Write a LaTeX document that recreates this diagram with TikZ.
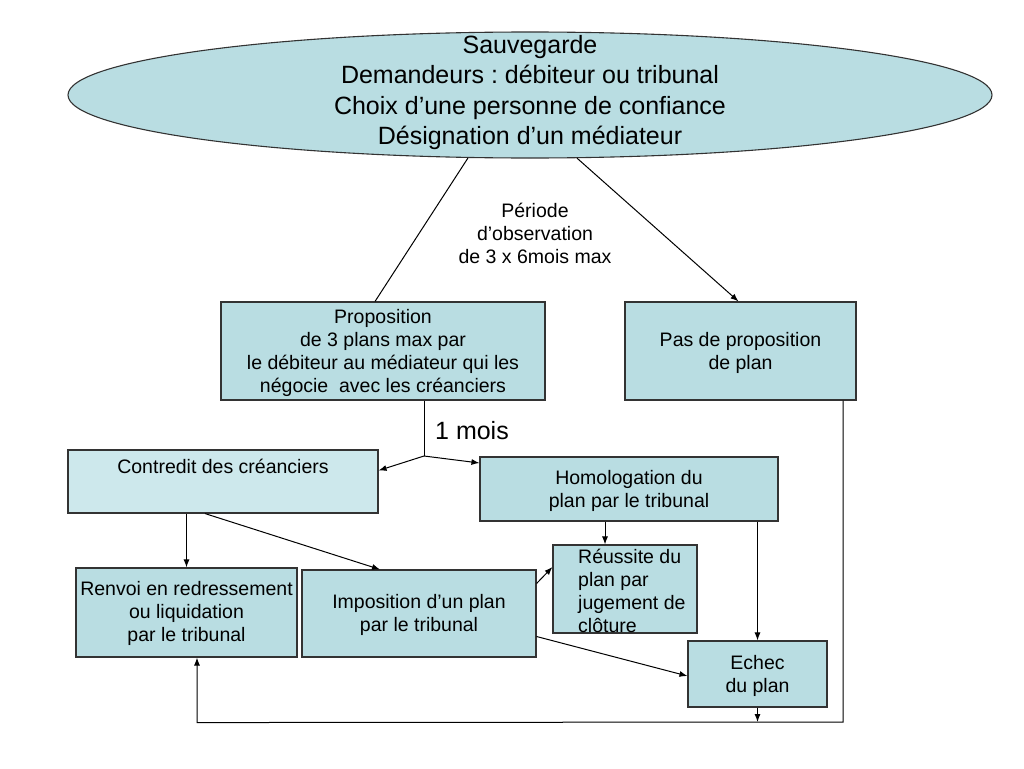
\documentclass[tikz,border=0pt]{standalone}
\usepackage{fontspec}
\setmainfont{Liberation Sans}
\frenchspacing
\usetikzlibrary{shapes.geometric,arrows.meta,calc}
\definecolor{boxfill}{HTML}{B9DDE2}
\definecolor{lightfill}{HTML}{CDE8EC}
\definecolor{edge}{HTML}{333333}
\begin{document}
\begin{tikzpicture}[x=1pt,y=-1pt,
  box/.style={draw=edge,line width=1.1pt,fill=boxfill,inner sep=0pt},
  txt/.style={font=\fontsize{19.5}{23}\selectfont,align=center,inner sep=0pt},
  conn/.style={line width=1pt,draw=black},
  arr/.style={conn,-{Latex[length=8pt,width=6pt]}}]
\useasboundingbox (0,0) rectangle (1024,768);
% ellipse
\node[ellipse,draw=edge,line width=1.1pt,fill=boxfill,minimum width=924pt,minimum height=126pt,inner sep=0pt] (ell) at (530,95) {};
\node[font=\fontsize{25}{30.3}\selectfont,align=center,inner sep=0pt] (ellT) at (530,92.5)
  {Sauvegarde\\Demandeurs : débiteur ou tribunal\\Choix d’une personne de confiance\\Désignation d’un médiateur};
% boxes
\node[box,minimum width=324pt,minimum height=98pt] (prop) at (383,351) {};
\node[txt] (propT) at (383,352.5) {Proposition\\de 3 plans max par\\le débiteur au médiateur qui les\\négocie\ \ avec les créanciers};
\node[box,minimum width=231pt,minimum height=98pt] (pas) at (740.5,351) {};
\node[txt] (pasT) at (740.5,352.5) {Pas de proposition\\de plan};
\node[box,fill=lightfill,minimum width=310pt,minimum height=63pt] (contr) at (223,481.5) {};
\node[txt] (contrT) at (223,466) {Contredit des créanciers};
\node[box,minimum width=298pt,minimum height=64pt] (homol) at (629,489) {};
\node[txt] (homolT) at (629,491) {Homologation du\\plan par le tribunal};
\node[box,minimum width=144pt,minimum height=88pt] (reus) at (625,589) {};
\node[txt,align=left,anchor=west] (reusT) at (578,590.5) {Réussite du\\plan par\\jugement de\\clôture};
\node[box,minimum width=221pt,minimum height=89pt] (renvoi) at (186.5,612.5) {};
\node[txt] (renvoiT) at (186.5,613) {Renvoi en redressement\\ou liquidation\\par le tribunal};
\node[box,minimum width=234pt,minimum height=87pt] (impos) at (419,613.5) {};
\node[txt] (imposT) at (419,614.5) {Imposition d’un plan\\par le tribunal};
\node[box,minimum width=139pt,minimum height=66pt] (echec) at (757.5,674) {};
\node[txt] (echecT) at (757.5,676) {Echec\\du plan};
% labels
\node[txt] (periode) at (535,233) {Période\\d’observation\\de 3 x 6mois max};
\node[font=\fontsize{25}{30}\selectfont,inner sep=0pt] (mois) at (472,431) {1 mois};
% connectors
\draw[conn] ($(ell.south)+(-62,-0.6)$) -- ($(prop.north)+(-8,0)$);
\draw[arr] ($(ell.south)+(47,-0.4)$) -- ($(pas.north)+(-2,0)$);
\coordinate (sp) at (424,456);
\draw[conn] ($(prop.south)+(41,0)$) -- (sp);
\draw[arr] (sp) -- ($(contr.east)+(0,-11)$);
\draw[arr] (sp) -- ($(homol.west)+(0,-26)$);
\draw[arr] ($(homol.south)+(-24,0)$) -- ($(reus.north)+(-20,0)$);
\draw[arr] (echec.north |- homol.south) -- (echec.north);
\draw[arr] (renvoi.north |- contr.south) -- (renvoi.north);
\draw[arr] ($(contr.south)+(-18,0)$) -- ($(impos.north)+(-39,0)$);
\draw[arr] ($(impos.east)+(0,-30)$) -- ($(reus.west)+(0,-22)$);
\draw[arr] ($(impos.east)+(0,23)$) -- ($(echec.west)+(0,2)$);
\coordinate (bot) at (757.5,722);
\draw[arr] (echec.south) -- (bot);
\coordinate (br) at (843,722);
\draw[arr] ($(pas.south)+(102.5,0)$) -- (br) -- ($(renvoi.south)+(10.5,65)$) -- ($(renvoi.south)+(10.5,0)$);
\end{tikzpicture}
\end{document}
